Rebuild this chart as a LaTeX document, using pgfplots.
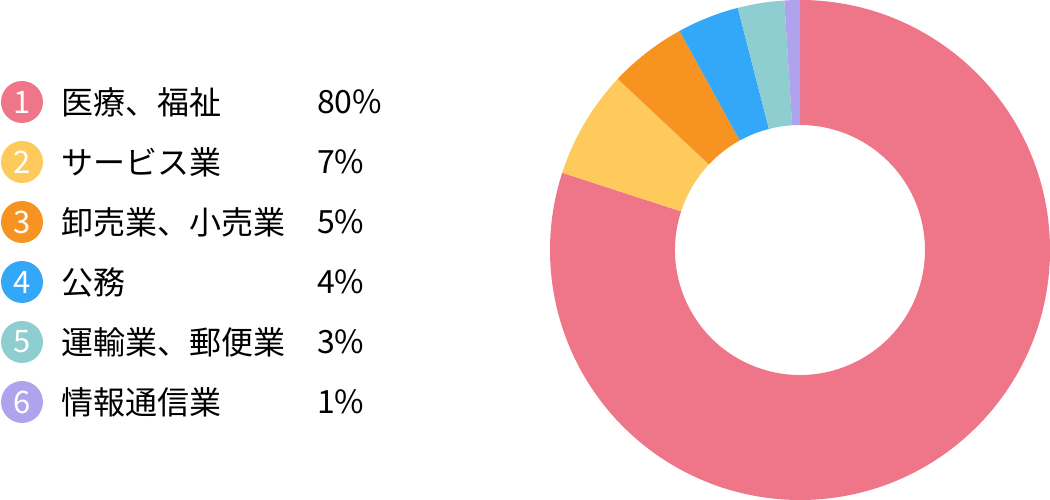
\documentclass[border=0pt]{standalone}
\usepackage{fontspec}
\setmainfont{Noto Sans CJK JP}
\usepackage{pgfplots}
\usepackage{pgfplotstable}
\pgfplotsset{compat=1.18}

\pgfplotstableread{
idx val label
0 80 医療、福祉
1 7 サービス業
2 5 卸売業、小売業
3 4 公務
4 3 運輸業、郵便業
5 1 情報通信業
}\pietable
\pgfplotstablecreatecol[create col/expr accum={\pgfmathaccuma + \thisrow{val}}{0}]{cum}\pietable

\pgfdeclareplotmark{donutslice}{%
  \pgfpathmoveto{\pgfpointpolar{\sa}{250pt}}%
  \pgfpatharc{\sa}{\ea}{250pt}%
  \pgfpathlineto{\pgfpointpolar{\ea}{125pt}}%
  \pgfpatharc{\ea}{\sa}{125pt}%
  \pgfpathclose
  \pgfusepathqfill}
\pgfdeclareplotmark{legdot}{%
  \pgfpathcircle{\pgfpointorigin}{21pt}%
  \pgfusepathqfill}

\begin{document}
\begin{tikzpicture}
\useasboundingbox (0,0) rectangle (1050pt,500pt);
\begin{axis}[
  at={(0,0)}, anchor=south west,
  width=1050pt, height=500pt, scale only axis,
  xmin=0, xmax=1050, ymin=0, ymax=500,
  hide axis, clip=false,
  colormap={pie}{rgb255=(239,118,137) rgb255=(255,202,92) rgb255=(247,148,33) rgb255=(51,168,249) rgb255=(142,206,208) rgb255=(176,163,238)},
  point meta min=0, point meta max=5,
  /pgf/number format/assume math mode=true,
]
% donut slices
\addplot[scatter, only marks, mark=donutslice,
  point meta=\thisrow{idx},
  scatter/use mapped color={draw=none, fill=mapped color},
  visualization depends on={90-3.6*(\thisrow{cum}-\thisrow{val}) \as \sa},
  visualization depends on={90-3.6*\thisrow{cum} \as \ea},
] table[x expr=800, y expr=250] {\pietable};

% legend circles
\addplot[scatter, only marks, mark=legdot,
  point meta=\thisrow{idx},
  scatter/use mapped color={draw=none, fill=mapped color},
] table[x expr=22, y expr=398-60*\thisrow{idx}] {\pietable};

% numbers in circles
\addplot[only marks, mark=*, mark size=0pt, draw=none, fill=none,
  point meta={\thisrow{idx}+1},
  nodes near coords,
  every node near coord/.append style={anchor=center, text=white, inner sep=0pt,
    font=\fontsize{31}{31}\selectfont},
] table[x expr=22, y expr=398-60*\thisrow{idx}] {\pietable};

% category labels
\addplot[only marks, mark=*, mark size=0pt, draw=none, fill=none,
  point meta=explicit symbolic,
  nodes near coords,
  every node near coord/.append style={anchor=west, text=black, inner sep=0pt,
    font=\fontsize{32}{32}\selectfont},
] table[x expr=61, y expr=398-60*\thisrow{idx}, meta=label] {\pietable};

% percentages
\addplot[only marks, mark=*, mark size=0pt, draw=none, fill=none,
  point meta=\thisrow{val},
  nodes near coords={\pgfmathprintnumber{\pgfplotspointmeta}\%},
  every node near coord/.append style={anchor=west, text=black, inner sep=0pt,
    font=\fontsize{32}{32}\selectfont},
] table[x expr=317, y expr=398-60*\thisrow{idx}] {\pietable};
\end{axis}
\end{tikzpicture}
\end{document}
